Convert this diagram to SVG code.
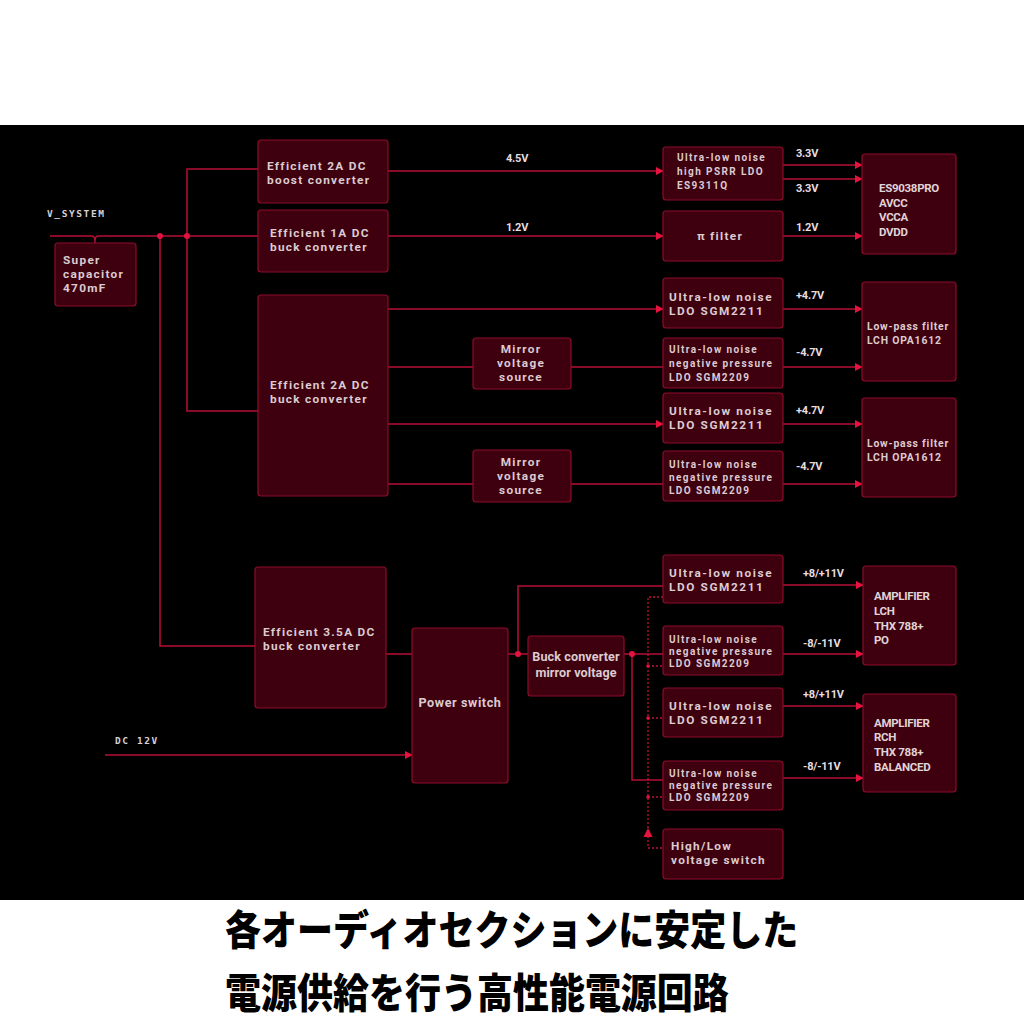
<svg xmlns="http://www.w3.org/2000/svg" width="1024" height="1024" viewBox="0 0 1024 1024">
<defs>
<style>
.box{fill:#3e000f;stroke:#8e0c2a;stroke-width:1.2}
.ln{fill:none;stroke:#b80f35;stroke-width:1.5}
.dt{fill:none;stroke:#c4123a;stroke-width:1.3;stroke-dasharray:2 2}
.t{font-family:Roboto,"Liberation Sans",sans-serif;font-weight:700;fill:#dccbcf}
.t12{font-size:11.8px;letter-spacing:1.3px}
.t12w{font-size:11.8px;letter-spacing:1.6px}
.t10{font-size:10px;letter-spacing:1.4px}
.lp{font-size:10.4px;letter-spacing:0.8px}
.v{font-family:Roboto,"Liberation Sans",sans-serif;font-weight:700;font-size:11px;fill:#e6dde0;letter-spacing:-0.2px}
.c{font-family:Roboto,"Liberation Sans",sans-serif;font-weight:700;font-size:11.5px;fill:#e0d4d7;letter-spacing:-0.3px}
.m{font-family:"DejaVu Sans Mono",monospace;font-weight:700;font-size:9.5px;fill:#d8d0d2;letter-spacing:1.6px}
.jp{font-family:"Noto Sans CJK JP",sans-serif;font-weight:900;font-size:36px;fill:#000}
.dot{fill:#e0143f}
</style>
<marker id="ar" viewBox="0 0 10 10" refX="9" refY="5" markerWidth="8" markerHeight="8" markerUnits="userSpaceOnUse" orient="auto">
<path d="M0,0 L10,5 L0,10 z" fill="#e8123f"/>
</marker>
</defs>
<rect x="0" y="0" width="1024" height="1024" fill="#ffffff"/>
<rect x="0" y="125" width="1024" height="775" fill="#000000"/>

<g id="connectors">
<path class="ln" d="M50,236 H91 Q95,236 95,240 Q95,236 99,236 H258"/>
<path class="ln" d="M95,239 V243"/>
<path class="ln" d="M258,169 H187 V411 H258"/>
<path class="ln" d="M160,236 V646 H255"/>
<path class="ln" d="M388,171 H663" marker-end="url(#ar)"/>
<path class="ln" d="M388,236 H663" marker-end="url(#ar)"/>
<path class="ln" d="M783,165 H862" marker-end="url(#ar)"/>
<path class="ln" d="M783,179 H862" marker-end="url(#ar)"/>
<path class="ln" d="M783,236 H862" marker-end="url(#ar)"/>
<path class="ln" d="M388,309 H663" marker-end="url(#ar)"/>
<path class="ln" d="M388,367 H473"/>
<path class="ln" d="M571,367 H663"/>
<path class="ln" d="M783,309 H862" marker-end="url(#ar)"/>
<path class="ln" d="M783,367 H862" marker-end="url(#ar)"/>
<path class="ln" d="M388,424 H663" marker-end="url(#ar)"/>
<path class="ln" d="M783,424 H862" marker-end="url(#ar)"/>
<path class="ln" d="M388,484 H473"/>
<path class="ln" d="M571,484 H663"/>
<path class="ln" d="M783,484 H862" marker-end="url(#ar)"/>
<path class="ln" d="M386,654 H412"/>
<path class="ln" d="M105,755 H412" marker-end="url(#ar)"/>
<path class="ln" d="M508,654 H528"/>
<path class="ln" d="M518,654 V586 H663"/>
<path class="ln" d="M624,654 H663"/>
<path class="ln" d="M632,654 V780 H663"/>
<path class="ln" d="M783,585 H863" marker-end="url(#ar)"/>
<path class="ln" d="M783,654 H863" marker-end="url(#ar)"/>
<path class="ln" d="M783,706 H863" marker-end="url(#ar)"/>
<path class="ln" d="M783,778 H863" marker-end="url(#ar)"/>
<path class="dt" d="M663,597 H648 V830"/>
<path class="dt" d="M648,836 V848 H663"/>
<path class="dt" d="M648,666 H663"/>
<path class="dt" d="M648,718 H663"/>
<path class="dt" d="M648,797 H663"/>
<path d="M648,828 L652.5,837 L643.5,837 z" fill="#e8123f"/>
<circle class="dot" cx="160" cy="236" r="3"/>
<circle class="dot" cx="187" cy="236" r="3"/>
<circle class="dot" cx="518" cy="654" r="3"/>
<circle class="dot" cx="632" cy="654" r="3"/>
<circle class="dot" cx="648" cy="666" r="1.8"/>
<circle class="dot" cx="648" cy="718" r="1.8"/>
<circle class="dot" cx="648" cy="797" r="1.8"/>
</g>

<g id="labels">
<text class="m" x="47" y="217">V_SYSTEM</text>
<text class="m" x="115" y="744">DC 12V</text>
<text class="v" x="506" y="162">4.5V</text>
<text class="v" x="506" y="231">1.2V</text>
<text class="v" x="796" y="157">3.3V</text>
<text class="v" x="796" y="192">3.3V</text>
<text class="v" x="796" y="231">1.2V</text>
<text class="v" x="796" y="299">+4.7V</text>
<text class="v" x="796" y="356">-4.7V</text>
<text class="v" x="796" y="414">+4.7V</text>
<text class="v" x="796" y="470">-4.7V</text>
<text class="v" x="803" y="577">+8/+11V</text>
<text class="v" x="803" y="647">-8/-11V</text>
<text class="v" x="803" y="698">+8/+11V</text>
<text class="v" x="803" y="770">-8/-11V</text>
</g>

<g id="supercap">
<rect class="box" x="55" y="243" width="81" height="63" rx="3"/>
<text class="t t12" x="63" y="264">Super</text>
<text class="t t12" x="63" y="278">capacitor</text>
<text class="t t12" x="63" y="292">470mF</text>
</g>
<g id="boost">
<rect class="box" x="258" y="140" width="130" height="63" rx="3"/>
<text class="t t12" x="267" y="170">Efficient 2A DC</text>
<text class="t t12" x="267" y="184">boost converter</text>
</g>
<g id="buck1a">
<rect class="box" x="258" y="210" width="130" height="62" rx="3"/>
<text class="t t12" x="270" y="237">Efficient 1A DC</text>
<text class="t t12" x="270" y="251">buck converter</text>
</g>
<g id="buck2a">
<rect class="box" x="258" y="295" width="130" height="201" rx="3"/>
<text class="t t12" x="270" y="389">Efficient 2A DC</text>
<text class="t t12" x="270" y="403">buck converter</text>
</g>
<g id="es9311">
<rect class="box" x="663" y="147" width="120" height="53" rx="3"/>
<text class="t t10" x="677" y="161">Ultra-low noise</text>
<text class="t t10" x="677" y="175">high PSRR LDO</text>
<text class="t t10" x="677" y="189">ES9311Q</text>
</g>
<g id="pifilter">
<rect class="box" x="663" y="211" width="120" height="50" rx="3"/>
<text class="t t12" x="720" y="240" text-anchor="middle">π filter</text>
</g>
<g id="es9038">
<rect class="box" x="862" y="154" width="94" height="100" rx="3"/>
<text class="c" x="879" y="192">ES9038PRO</text>
<text class="c" x="879" y="207">AVCC</text>
<text class="c" x="879" y="221">VCCA</text>
<text class="c" x="879" y="236">DVDD</text>
</g>
<g id="ldo1">
<rect class="box" x="663" y="278" width="120" height="50" rx="3"/>
<text class="t t12w" x="669" y="301">Ultra-low noise</text>
<text class="t t12w" x="669" y="315">LDO SGM2211</text>
</g>
<g id="mirror1">
<rect class="box" x="473" y="338" width="98" height="51" rx="3"/>
<text class="t t12" x="521" y="353" text-anchor="middle">Mirror</text>
<text class="t t12" x="521" y="367" text-anchor="middle">voltage</text>
<text class="t t12" x="521" y="381" text-anchor="middle">source</text>
</g>
<g id="neg1">
<rect class="box" x="663" y="338" width="120" height="50" rx="3"/>
<text class="t t10" x="669" y="353">Ultra-low noise</text>
<text class="t t10" x="669" y="367">negative pressure</text>
<text class="t t10" x="669" y="381">LDO SGM2209</text>
</g>
<g id="lpf1">
<rect class="box" x="862" y="282" width="94" height="99" rx="3"/>
<text class="t lp" x="867" y="330">Low-pass filter</text>
<text class="t lp" x="867" y="344">LCH OPA1612</text>
</g>
<g id="ldo2">
<rect class="box" x="663" y="393" width="120" height="50" rx="3"/>
<text class="t t12w" x="669" y="415">Ultra-low noise</text>
<text class="t t12w" x="669" y="429">LDO SGM2211</text>
</g>
<g id="mirror2">
<rect class="box" x="473" y="450" width="98" height="52" rx="3"/>
<text class="t t12" x="521" y="466" text-anchor="middle">Mirror</text>
<text class="t t12" x="521" y="480" text-anchor="middle">voltage</text>
<text class="t t12" x="521" y="494" text-anchor="middle">source</text>
</g>
<g id="neg2">
<rect class="box" x="663" y="451" width="120" height="50" rx="3"/>
<text class="t t10" x="669" y="468">Ultra-low noise</text>
<text class="t t10" x="669" y="481">negative pressure</text>
<text class="t t10" x="669" y="494">LDO SGM2209</text>
</g>
<g id="lpf2">
<rect class="box" x="862" y="398" width="94" height="99" rx="3"/>
<text class="t lp" x="867" y="447">Low-pass filter</text>
<text class="t lp" x="867" y="461">LCH OPA1612</text>
</g>
<g id="buck35">
<rect class="box" x="255" y="567" width="131" height="141" rx="3"/>
<text class="t t12" x="263" y="636">Efficient 3.5A DC</text>
<text class="t t12" x="263" y="650">buck converter</text>
</g>
<g id="powerswitch">
<rect class="box" x="412" y="628" width="96" height="155" rx="3"/>
<text class="t" x="460" y="707" text-anchor="middle" style="font-size:12.6px;letter-spacing:0.6px">Power switch</text>
</g>
<g id="buckmirror">
<rect class="box" x="528" y="636" width="96" height="60" rx="3"/>
<text class="t" x="576" y="661" text-anchor="middle" style="font-size:12.6px;letter-spacing:0.1px">Buck converter</text>
<text class="t" x="576" y="677" text-anchor="middle" style="font-size:12.6px;letter-spacing:0.1px">mirror voltage</text>
</g>
<g id="ldo3">
<rect class="box" x="663" y="555" width="120" height="48" rx="3"/>
<text class="t t12w" x="669" y="577">Ultra-low noise</text>
<text class="t t12w" x="669" y="591">LDO SGM2211</text>
</g>
<g id="neg3">
<rect class="box" x="663" y="626" width="120" height="49" rx="3"/>
<text class="t t10" x="669" y="643">Ultra-low noise</text>
<text class="t t10" x="669" y="655">negative pressure</text>
<text class="t t10" x="669" y="667">LDO SGM2209</text>
</g>
<g id="ampl">
<rect class="box" x="863" y="566" width="93" height="99" rx="3"/>
<text class="c" x="874" y="600">AMPLIFIER</text>
<text class="c" x="874" y="615">LCH</text>
<text class="c" x="874" y="630">THX 788+</text>
<text class="c" x="874" y="644">PO</text>
</g>
<g id="ldo4">
<rect class="box" x="663" y="688" width="120" height="49" rx="3"/>
<text class="t t12w" x="669" y="710">Ultra-low noise</text>
<text class="t t12w" x="669" y="724">LDO SGM2211</text>
</g>
<g id="neg4">
<rect class="box" x="663" y="761" width="120" height="49" rx="3"/>
<text class="t t10" x="669" y="777">Ultra-low noise</text>
<text class="t t10" x="669" y="789">negative pressure</text>
<text class="t t10" x="669" y="801">LDO SGM2209</text>
</g>
<g id="ampr">
<rect class="box" x="863" y="694" width="93" height="98" rx="3"/>
<text class="c" x="874" y="727">AMPLIFIER</text>
<text class="c" x="874" y="741">RCH</text>
<text class="c" x="874" y="756">THX 788+</text>
<text class="c" x="874" y="771">BALANCED</text>
</g>
<g id="hilow">
<rect class="box" x="663" y="829" width="120" height="50" rx="3"/>
<text class="t t12" x="671" y="850">High/Low</text>
<text class="t t12" x="671" y="864">voltage switch</text>
</g>

<g id="caption">
<text class="jp" transform="translate(225,945) scale(1,1.15)">各オーディオセクションに安定した</text>
<text class="jp" transform="translate(225,1008) scale(1,1.15)">電源供給を行う高性能電源回路</text>
</g>
</svg>
